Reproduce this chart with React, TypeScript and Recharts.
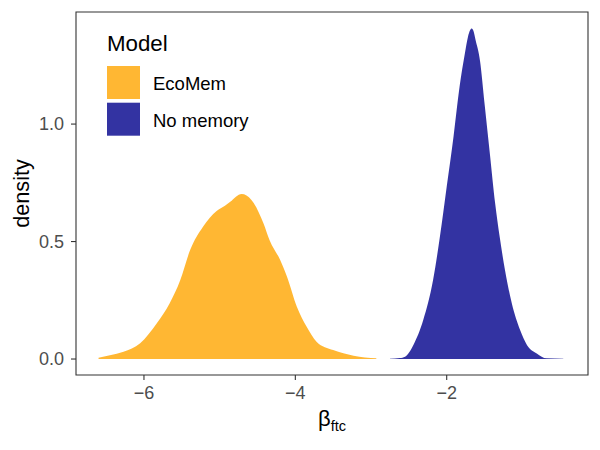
import React from 'react';
import { ComposedChart, Area, XAxis, YAxis, ReferenceArea, Legend, Label } from 'recharts';

const ecoMemX = [-6.60, -6.45, -6.27, -6.05, -5.83, -5.66, -5.52, -5.39, -5.22, -5.04, -4.93, -4.86, -4.71, -4.58, -4.42, -4.34, -4.20, -4.11, -3.98, -3.85, -3.72, -3.50, -3.23, -2.93];
const ecoMemDensity = [0.005, 0.016, 0.031, 0.067, 0.152, 0.237, 0.336, 0.464, 0.563, 0.63, 0.652, 0.669, 0.702, 0.677, 0.577, 0.506, 0.421, 0.350, 0.223, 0.137, 0.074, 0.038, 0.014, 0.003];
const noMemX = [-2.75, -2.62, -2.55, -2.44, -2.31, -2.18, -2.09, -2.00, -1.91, -1.83, -1.76, -1.72, -1.69, -1.67, -1.645, -1.62, -1.56, -1.50, -1.43, -1.36, -1.30, -1.23, -1.14, -1.03, -0.94, -0.81, -0.68, -0.46];
const noMemDensity = [0.001, 0.004, 0.01, 0.06, 0.166, 0.336, 0.52, 0.733, 0.946, 1.159, 1.30, 1.37, 1.40, 1.407, 1.395, 1.36, 1.27, 1.088, 0.875, 0.663, 0.52, 0.379, 0.237, 0.123, 0.06, 0.024, 0.003, 0.001];

const seriesKeys = ['eco', 'nomem'];
const seriesNames = ['EcoMem', 'No memory'];
const seriesColors = ['#FFA500', '#00008B'];
const legendTitle = 'Model';
const xTicks = [-6, -4, -2];
const yTicks = [0, 0.5, 1.0];
const xDomain: [number, number] = [-6.898, -0.133];
const yDomain: [number, number] = [-0.068, 1.477];

const data = [
  ...ecoMemX.map((x, i) => ({ x, eco: ecoMemDensity[i], nomem: null as number | null })),
  ...noMemX.map((x, i) => ({ x, eco: null as number | null, nomem: noMemDensity[i] })),
];

const FONT = "'Liberation Sans', Arial, Helvetica, sans-serif";

const fmtX = (v: number) => (v < 0 ? '\u2212' + Math.abs(v) : String(v));
const fmtY = (v: number) => v.toFixed(1);

const XLabel = (props: any) => {
  const vb = props.viewBox || {};
  const cx = vb.x + vb.width / 2;
  const y = vb.y + 51;
  return (
    <text x={cx} y={y} textAnchor="middle" fontFamily={FONT} fill="#000">
      <tspan fontSize={22}>β</tspan>
      <tspan fontSize={14.5} dy={5}>ftc</tspan>
    </text>
  );
};

const YLabel = (props: any) => {
  const vb = props.viewBox || {};
  const cy = vb.y + vb.height / 2;
  const x = 28.5;
  return (
    <text x={x} y={cy} transform={`rotate(-90 ${x} ${cy})`} textAnchor="middle" fontFamily={FONT} fontSize={21.7} fill="#000">
      density
    </text>
  );
};

const renderLegend = () => (
  <svg width={220} height={125} style={{ display: 'block' }}>
    <text x={0} y={23} fontSize={22.3} fontFamily={FONT} fill="#000">{legendTitle}</text>
    {seriesNames.map((n, i) => (
      <g key={n}>
        <rect x={0} y={38 + i * 36.7} width={33} height={33} fill={seriesColors[i]} fillOpacity={0.8} />
        <text x={46} y={62 + i * 36.7} fontSize={18.5} fontFamily={FONT} fill="#000">{n}</text>
      </g>
    ))}
  </svg>
);

export default function App() {
  return (
    <div style={{ position: 'absolute', left: 0, top: 0 }}>
      <ComposedChart width={600} height={450} data={data} margin={{ top: 12, right: 12, bottom: 0, left: 0 }}>
        <XAxis
          type="number"
          dataKey="x"
          domain={xDomain}
          ticks={xTicks}
          allowDataOverflow
          height={75}
          axisLine={false}
          tickLine={{ stroke: '#333333', strokeWidth: 1.1 }}
          tickSize={5}
          tickMargin={6}
          tickFormatter={fmtX}
          tick={{ fill: '#4D4D4D', fontSize: 18, fontFamily: FONT }}
        >
          <Label content={<XLabel />} />
        </XAxis>
        <YAxis
          type="number"
          domain={yDomain}
          ticks={yTicks}
          allowDataOverflow
          width={76}
          axisLine={false}
          tickLine={{ stroke: '#333333', strokeWidth: 1.1 }}
          tickSize={5}
          tickMargin={7}
          tickFormatter={fmtY}
          tick={{ fill: '#4D4D4D', fontSize: 18, fontFamily: FONT }}
        >
          <Label content={<YLabel />} />
        </YAxis>
        {seriesKeys.map((k, i) => (
          <Area
            key={k}
            type="monotone"
            dataKey={k}
            name={seriesNames[i]}
            fill={seriesColors[i]}
            fillOpacity={0.8}
            stroke="none"
            baseValue={0}
            isAnimationActive={false}
            dot={false}
            activeDot={false}
          />
        ))}
        <ReferenceArea
          x1={xDomain[0]}
          x2={xDomain[1]}
          y1={yDomain[0]}
          y2={yDomain[1]}
          fill="none"
          stroke="#333333"
          strokeWidth={1.1}
          ifOverflow="visible"
        />
        <Legend
          layout="vertical"
          align="center"
          verticalAlign="middle"
          content={renderLegend}
          wrapperStyle={{ left: 107, top: 28, width: 220, height: 125 }}
        />
      </ComposedChart>
    </div>
  );
}
